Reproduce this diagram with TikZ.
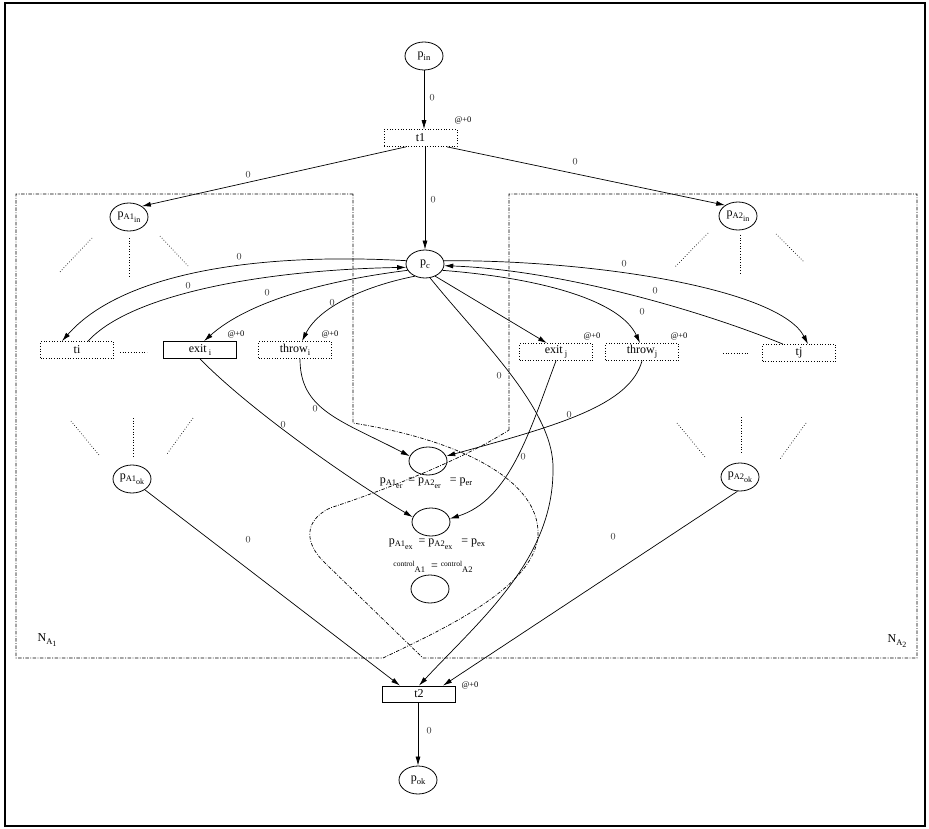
\documentclass[tikz,border=0pt]{standalone}
\usepackage{fontspec}
\setmainfont{Liberation Serif}
\usetikzlibrary{shapes.geometric,arrows.meta,calc}
\newcommand\subA[1]{\raisebox{-2.6pt}{\fontsize{8.5}{9}\selectfont #1}}
\newcommand\subB[1]{\raisebox{-2.4pt}{\fontsize{8}{8}\selectfont #1}}
\newcommand\supC[1]{\raisebox{3pt}{\fontsize{7.5}{7.5}\selectfont #1}}
\begin{document}
\begin{tikzpicture}[x=1pt,y=-1pt,
 place/.style={ellipse,draw,line width=0.8pt,minimum width=38pt,minimum height=28pt,inner sep=0pt,font=\fontsize{12}{14}\selectfont},
 trd/.style={draw,dotted,line width=0.7pt,minimum width=73pt,minimum height=17pt,inner sep=0pt,font=\fontsize{12}{14}\selectfont},
 trs/.style={draw,line width=0.8pt,minimum width=73pt,minimum height=17pt,inner sep=0pt,font=\fontsize{12}{14}\selectfont},
 arc/.style={line width=0.7pt,-{Latex[length=9pt,width=5pt]}},
 wl/.style={font=\fontsize{7.5}{8}\selectfont,inner sep=0pt},
 tl/.style={font=\fontsize{8.5}{9}\selectfont,inner sep=0pt},
 fan/.style={dotted,line width=0.7pt},
 net/.style={line width=0.7pt,dash pattern=on 3.5pt off 1.5pt on 0.8pt off 1.5pt},
 lab/.style={font=\fontsize{12}{14}\selectfont,inner sep=0pt}]
\useasboundingbox (0,0) rectangle (929,829);
\draw[line width=1.2pt] (5,3) rectangle (925,826);

% nets
\draw[net] (353,194) -- (16,194) -- (16,658) -- (383,658)
  .. controls (430,635) and (535,590) .. (538,535)
  .. controls (540,480) and (460,440) .. (353,423) -- cycle;
\draw[net] (509,430) -- (509,194) -- (917,194) -- (917,658) -- (423,658)
  -- (325,563) .. controls (303,542) and (305,520) .. (330,508)
  .. controls (400,485) and (470,455) .. (509,430);
\node[lab] (na1) at (47,640) {N\subA{A\subB{1}}};
\node[lab] (na2) at (897,641) {N\subA{A\subB{2}}};

% places
\node[place] (pin) at (424,56) {p\subA{in}};
\node[place] (pA1in) at (129,217) {p\subA{A1\subB{in}}};
\node[place] (pA2in) at (738,216) {p\subA{A2\subB{in}}};
\node[place] (pc) at (425,264) {p\subA{c}};
\node[place] (per) at (428,461) {};
\node[place] (pex) at (431,522) {};
\node[place] (ctl) at (430,589) {};
\node[place] (pA1ok) at (132,479) {p\subA{A1\subB{ok}}};
\node[place] (pA2ok) at (740,477) {p\subA{A2\subB{ok}}};
\node[place] (pok) at (418,780) {p\subA{ok}};

% transitions
\node[trd] (t1) at (420.5,138) {t1};
\node[trd] (ti) at (77,350) {ti};
\node[trs] (exiti) at (200,350) {exit\,\subA{i}};
\node[trd] (throwi) at (295,350) {throw\subA{i}};
\node[trd] (exitj) at (556,352) {exit\,\subA{j}};
\node[trd] (throwj) at (642,352) {throw\subA{j}};
\node[trd] (tj) at (799,353) {tj};
\node[trs,minimum height=16pt] (t2) at (419,694) {t2};

% time labels
\node[tl] (at1) at (463,120) {@+0};
\node[tl] (aei) at (236,334) {@+0};
\node[tl] (ati) at (330,334) {@+0};
\node[tl] (aej) at (592,336) {@+0};
\node[tl] (atj) at (679,336) {@+0};
\node[tl] (at2) at (470,685) {@+0};

% shared place labels
\node[lab] (lper) at (426,483) {p\subA{A1\subB{er}} ~= p\subA{A2\subB{er}} ~~= p\subA{er}};
\node[lab] (lpex) at (437,544) {p\subA{A1\subB{ex}} ~= p\subA{A2\subB{ex}} ~~= p\subA{ex}};
\node[lab] (lctl) at (433,567) {\supC{control}\subA{A1} ~= \supC{control}\subA{A2}};

% fans
\draw[fan] (92,238) -- (59,273);
\draw[fan] (129,238) -- (129,276);
\draw[fan] (160,236) -- (188,266);
\draw[fan] (708,233) -- (675,267);
\draw[fan] (740,235) -- (740,274);
\draw[fan] (776,234) -- (804,262);
\draw[fan] (71,421) -- (99,455);
\draw[fan] (133,418) -- (133,457);
\draw[fan] (193,418) -- (167,454);
\draw[fan] (677,423) -- (705,457);
\draw[fan] (741,417) -- (741,453);
\draw[fan] (806,423) -- (780,459);
\draw[fan] (120,352) -- (147,352);
\draw[fan] (723,353) -- (749,353);

% arcs
\draw[arc] (pin) -- (pin |- t1.north);
\draw[arc] (t1.south -| pc) -- (pc.north);
\draw[arc] ([xshift=-14.5pt]t1.south) -- (pA1in.40);
\draw[arc] ([xshift=26.5pt]t1.south) -- (pA2in.140);
\draw[arc] (pc.170) .. controls (250,252) and (120,275) .. ([xshift=-15pt]ti.north);
\draw[arc] ([xshift=11pt]ti.north) .. controls (130,295) and (260,270) .. (pc.190);
\draw[arc] (pc.200) .. controls (330,280) and (250,300) .. ([xshift=4pt]exiti.north);
\draw[arc] (pc.230) .. controls (370,285) and (320,305) .. ([xshift=7pt]throwi.north);
\draw[arc] (pc.310) -- ([xshift=-9pt]exitj.north);
\draw[arc] (pc.340) .. controls (540,278) and (620,300) .. ([xshift=-2pt]throwj.north);
\draw[arc] (pc.10) .. controls (600,260) and (780,290) .. ([xshift=9pt]tj.north);
\draw[arc] ([xshift=-16pt]tj.north) .. controls (700,310) and (560,270) .. (pc.355);
\draw[arc] (pc.290) .. controls (480,340) and (555,410) .. (553,470)
  .. controls (553,560) and (480,620) .. (t2.north);
\draw[arc] (exiti.south) .. controls (250,410) and (350,480) .. (pex.165);
\draw[arc] ([xshift=5pt]throwi.south) .. controls (300,410) and (340,420) .. (per.165);
\draw[arc] (exitj.south) .. controls (530,430) and (510,500) .. (pex.10);
\draw[arc] (throwj.south) .. controls (630,405) and (560,425) .. (per.15);
\draw[arc] (pA1ok.320) -- ([xshift=-19pt]t2.north);
\draw[arc] (pA2ok.260) -- ([xshift=24pt]t2.north);
\draw[arc] (t2.south -| pok) -- (pok.north);

% weight labels
\node[wl] (w1) at (432,98) {()};
\node[wl] (w2) at (433,200) {()};
\node[wl] (w3) at (248,175) {()};
\node[wl] (w4) at (575,162) {()};
\node[wl] (w5) at (239,257) {()};
\node[wl] (w6) at (188,286) {()};
\node[wl] (w7) at (267,293) {()};
\node[wl] (w8) at (332,303) {()};
\node[wl] (w9) at (624,264) {()};
\node[wl] (w10) at (655,291) {()};
\node[wl] (w11) at (642,312) {()};
\node[wl] (w12) at (499,376) {()};
\node[wl] (w13) at (283,425) {()};
\node[wl] (w14) at (315,409) {()};
\node[wl] (w15) at (523,457) {()};
\node[wl] (w16) at (569,415) {()};
\node[wl] (w17) at (248,540) {()};
\node[wl] (w18) at (613,537) {()};
\node[wl] (w19) at (429,731) {()};
\end{tikzpicture}
\end{document}
